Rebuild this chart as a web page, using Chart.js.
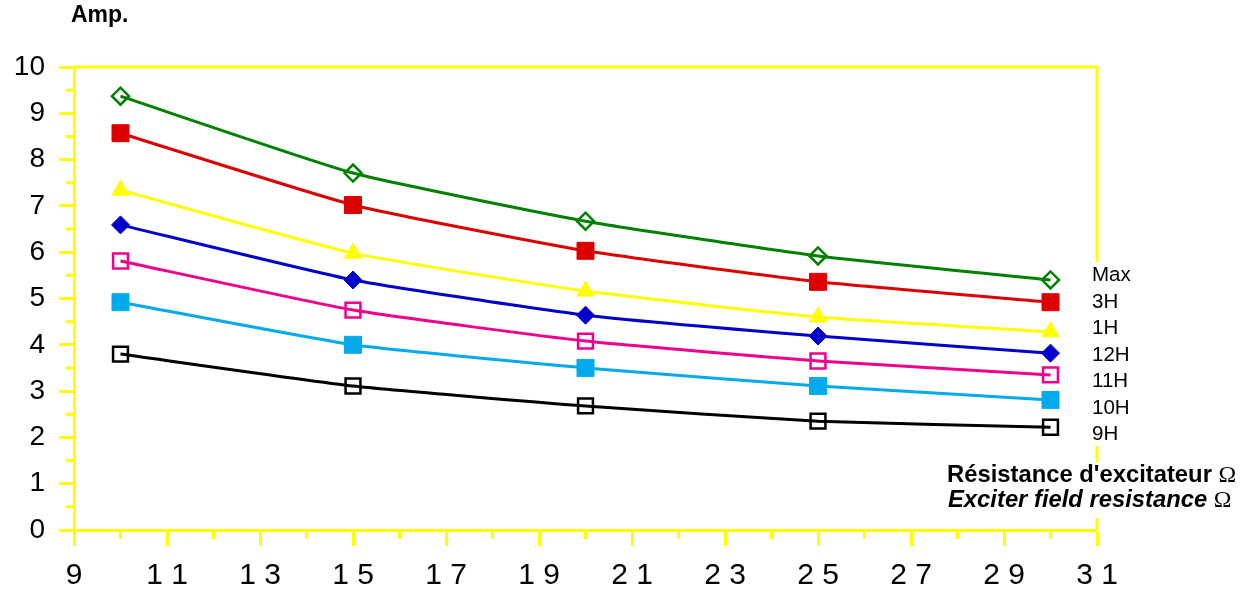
<!DOCTYPE html>
<html>
<head>
<meta charset="utf-8">
<script src="https://cdn.jsdelivr.net/npm/chart.js@4"></script>
<style>
  body { margin: 0; background: #fff; }
</style>
</head>
<body>
<canvas id="amps" width="1258" height="593"></canvas>
<script>
const resistance = [10, 15, 20, 25, 30];
const seriesNames = ['Max', '3H', '1H', '12H', '11H', '10H', '9H'];
const maxAmp = [9.37, 7.71, 6.67, 5.92, 5.40];
const amp3H = [8.57, 7.02, 6.03, 5.36, 4.92];
const amp1H = [7.34, 5.98, 5.16, 4.60, 4.28];
const amp12H = [6.59, 5.40, 4.64, 4.19, 3.82];
const amp11H = [5.81, 4.75, 4.08, 3.65, 3.35];
const amp10H = [4.92, 4.00, 3.50, 3.11, 2.81];
const amp9H = [3.80, 3.11, 2.68, 2.35, 2.22];

const axisColor = '#ffff00';
const font = '"Liberation Sans", Arial, sans-serif';

function pts(values) {
    return resistance.map((x, i) => ({ x: x, y: values[i] }));
}

function series(label, values, color, style, radius, filled) {
    return {
        label: label,
        data: pts(values),
        borderColor: color,
        borderWidth: 3,
        pointStyle: style,
        pointRadius: radius,
        pointBorderColor: color,
        pointBackgroundColor: filled ? color : 'rgba(0,0,0,0)',
        pointBorderWidth: filled ? 1 : 2.5,
        tension: 0.15,
        fill: false
    };
}

// minor ticks, top/right frame
const frame = {
    id: 'frame',
    beforeDatasetsDraw(chart) {
        const { ctx, chartArea: a, scales: { x, y } } = chart;
        ctx.save();
        ctx.strokeStyle = axisColor;
        ctx.lineWidth = 3;
        ctx.beginPath();
        ctx.moveTo(a.left, a.top);
        ctx.lineTo(a.right, a.top);
        ctx.lineTo(a.right, a.bottom);
        for (let v = x.min + 1; v < x.max; v += 2) {
            const px = x.getPixelForValue(v);
            ctx.moveTo(px, a.bottom);
            ctx.lineTo(px, a.bottom + 9);
        }
        for (let v = y.min + 0.5; v < y.max; v += 1) {
            const py = y.getPixelForValue(v);
            ctx.moveTo(a.left, py);
            ctx.lineTo(a.left - 8, py);
        }
        ctx.stroke();
        ctx.restore();
    },
    afterDraw(chart) {
        const { ctx } = chart;
        ctx.save();
        // series names beside the line ends
        ctx.fillStyle = '#fff';
        ctx.fillRect(1088, 262, 60, 184);
        ctx.fillRect(940, 462, 310, 56);
        ctx.fillStyle = '#000';
        ctx.textBaseline = 'alphabetic';
        ctx.font = '20.5px ' + font;
        seriesNames.forEach((n, i) => ctx.fillText(n, 1092, 281 + i * 26.5));

        // y title
        ctx.font = 'bold 23px ' + font;
        ctx.fillText('Amp.', 71, 22);

        // x title, two lines
        ctx.font = 'bold 23.8px ' + font;
        const l1 = 'Résistance d\'excitateur ';
        ctx.fillText(l1, 947, 482);
        let w = ctx.measureText(l1).width;
        ctx.font = '23.8px "Liberation Serif", "Times New Roman", serif';
        ctx.fillText('\u03A9', 947 + w, 482);
        ctx.font = 'italic bold 23.8px ' + font;
        const l2 = 'Exciter field resistance ';
        ctx.fillText(l2, 948, 507);
        w = ctx.measureText(l2).width;
        ctx.font = '23.8px "Liberation Serif", "Times New Roman", serif';
        ctx.fillText('\u03A9', 948 + w, 507);
        ctx.restore();
    }
};

const ctx = document.getElementById('amps').getContext('2d');
const myChart = new Chart(ctx, {
    type: 'line',
    data: {
        datasets: [
            series('Max', maxAmp, 'rgb(0,128,0)', 'rectRot', 8.5, false),
            series('3H', amp3H, 'rgb(221,0,0)', 'rect', 12, true),
            series('1H', amp1H, 'rgb(255,255,0)', 'triangle', 10, true),
            series('12H', amp12H, 'rgb(0,0,204)', 'rectRot', 9, true),
            series('11H', amp11H, 'rgb(238,0,140)', 'rect', 10.5, false),
            series('10H', amp10H, 'rgb(0,170,235)', 'rect', 12, true),
            series('9H', amp9H, 'rgb(0,0,0)', 'rect', 10.5, false)
        ]
    },
    options: {
        responsive: false,
        animation: false,
        layout: { padding: { top: 67, right: 161, left: 0, bottom: 0 } },
        plugins: { legend: { display: false }, tooltip: { enabled: false } },
        scales: {
            x: {
                type: 'linear',
                min: 9,
                max: 31,
                afterFit(scale) { scale.height = 63; },
                border: { color: axisColor, width: 3 },
                grid: { drawOnChartArea: false, tickLength: 16, tickWidth: 3, tickColor: axisColor },
                ticks: {
                    stepSize: 2,
                    padding: 12,
                    color: '#000',
                    font: { family: font, size: 30 },
                    maxRotation: 0,
                    callback: v => String(v).split('').join('\u2008')
                }
            },
            y: {
                min: 0,
                max: 10,
                afterFit(scale) { scale.width = 74; },
                border: { color: axisColor, width: 3 },
                grid: { drawOnChartArea: false, tickLength: 15, tickWidth: 3, tickColor: axisColor },
                ticks: {
                    stepSize: 1,
                    padding: 14,
                    color: '#000',
                    font: { family: font, size: 28 }
                }
            }
        }
    },
    plugins: [frame]
});
</script>
</body>
</html>
